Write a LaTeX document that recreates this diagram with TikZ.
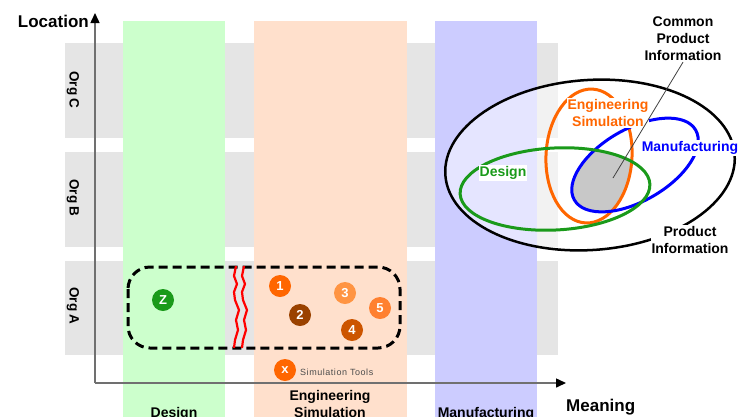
\documentclass[tikz,border=0pt]{standalone}
\usepackage{fontspec}
\setmainfont{Liberation Sans}
\usetikzlibrary{arrows.meta}

\definecolor{bandgray}{HTML}{E5E5E5}
\definecolor{colgreen}{HTML}{CCFFCC}
\definecolor{colpeach}{HTML}{FFE0CC}
\definecolor{colblue}{HTML}{CCCCFF}
\definecolor{axisgray}{HTML}{707070}
\definecolor{dgreen}{HTML}{1A9A1A}
\definecolor{eorange}{HTML}{FF6600}
\definecolor{ebrown}{HTML}{9A4200}
\definecolor{elight}{HTML}{FF9442}
\definecolor{edark}{HTML}{CC5500}
\definecolor{emid}{HTML}{FF8030}
\definecolor{commongray}{HTML}{C8C8C8}

\tikzset{
  lbl/.style={font=\bfseries\fontsize{14}{17}\selectfont, align=center, inner sep=1pt},
  axislbl/.style={font=\bfseries\fontsize{17}{20}\selectfont, inner sep=0pt},
  orglbl/.style={font=\bfseries\fontsize{13.5}{16}\selectfont, rotate=-90, inner sep=0pt},
  axisline/.style={draw=axisgray, line width=1.5pt, -{Triangle[length=10pt,width=9pt,color=black]}},
  tool/.style={circle, inner sep=0pt, minimum size=22pt, text=white,
               font=\bfseries\fontsize{13}{13}\selectfont},
  groupbox/.style={draw=black, line width=3pt, dash pattern=on 9pt off 5pt, rounded corners=22pt},
  breakline/.style={draw=red, line width=2.2pt, line join=round},
  setring/.style={line width=3pt},
  cutout/.style={lbl, fill=white},
}

\begin{document}
\begin{tikzpicture}[x=1pt, y=-1pt]
\useasboundingbox (0,0) rectangle (752,416);

% organisation rows
\fill[bandgray] (65,43) rectangle (558,138);
\fill[bandgray] (65,152) rectangle (558,247);
\fill[bandgray] (65,261) rectangle (558,355);
\node[orglbl] (orgC) at (73,90) {Org C};
\node[orglbl] (orgB) at (73,198) {Org B};
\node[orglbl] (orgA) at (73,306) {Org A};

% meaning columns
\fill[colgreen] (123,21) rectangle (225,420);
\fill[colpeach] (254,21) rectangle (407,420);
\fill[colblue] (435,21) rectangle (537,420);

% axes
\coordinate (origin) at (95,383);
\coordinate (ytip) at (95,13);
\coordinate (xtip) at (566,383);
\draw[axisline] (origin) -- (ytip);
\draw[axisline] (origin) -- (xtip);
\node[axislbl, anchor=east] (loc) at (89,21) {Location};
\node[axislbl, anchor=west] (mean) at (566,407) {Meaning};

% column captions
\node[lbl] (capD) at (174,414) {Design};
\node[lbl] (capE) at (330,404) {Engineering\\Simulation};
\node[lbl] (capM) at (486,414) {Manufacturing};

% tools grouped in Org A
\draw[groupbox] (128,267) rectangle (400,348);
\draw[breakline] (236,266) -- (234,276) -- (237,284) -- (234,292) -- (235,300)
  -- (239,310) -- (236,320) -- (238,330) -- (235,340) -- (234,348);
\draw[breakline] (244,266) -- (242,276) -- (245,284) -- (242,292) -- (243,300)
  -- (247,310) -- (244,320) -- (246,330) -- (243,340) -- (242,348);

\node[tool, fill=dgreen] (tz) at (163,300) {Z};
\node[tool, fill=eorange] (t1) at (280,286) {1};
\node[tool, fill=ebrown] (t2) at (300,315) {2};
\node[tool, fill=elight] (t3) at (345,293) {3};
\node[tool, fill=edark] (t4) at (352,330) {4};
\node[tool, fill=emid] (t5) at (380,308) {5};
\node[tool, fill=eorange] (tx) at (285,370) {x};
\node[anchor=west, inner sep=0pt, text=black!70, font=\fontsize{9}{10}\selectfont\addfontfeature{LetterSpace=6}]
  (simtools) at (300,372) {Simulation Tools};

% product information sets
\filldraw[draw=black, line width=2.5pt, fill=white, fill opacity=0.5, rotate around={4:(590,165)}]
  (590,165) ellipse [x radius=145, y radius=85];
\begin{scope}
  \clip[rotate around={3:(555,189)}] (555,189) ellipse [x radius=95, y radius=41];
  \clip[rotate around={-3:(589,156)}] (589,156) ellipse [x radius=43, y radius=67];
  \fill[commongray, rotate around={30:(635,165)}] (635,165) ellipse [x radius=70, y radius=36];
\end{scope}
\draw[setring, draw=eorange, rotate around={-3:(589,156)}] (589,156) ellipse [x radius=43, y radius=67];
\draw[setring, draw=blue, rotate around={30:(635,165)}] (635,165) ellipse [x radius=70, y radius=36];
\draw[setring, draw=dgreen, rotate around={3:(555,189)}] (555,189) ellipse [x radius=95, y radius=41];

\node[cutout, text=eorange] (engS) at (608,113) {Engineering\\Simulation};
\node[cutout, text=blue] (manS) at (690,148) {Manufacturing};
\node[cutout, text=dgreen] (desS) at (503,173) {Design};
\node[cutout] (prodI) at (690,240) {Product\\Information};
\node[lbl] (common) at (683,39) {Common\\Product\\Information};
\coordinate (commonpt) at (613,178);
\draw[black!75, line width=0.8pt] (common.south) -- (commonpt);
\end{tikzpicture}
\end{document}
